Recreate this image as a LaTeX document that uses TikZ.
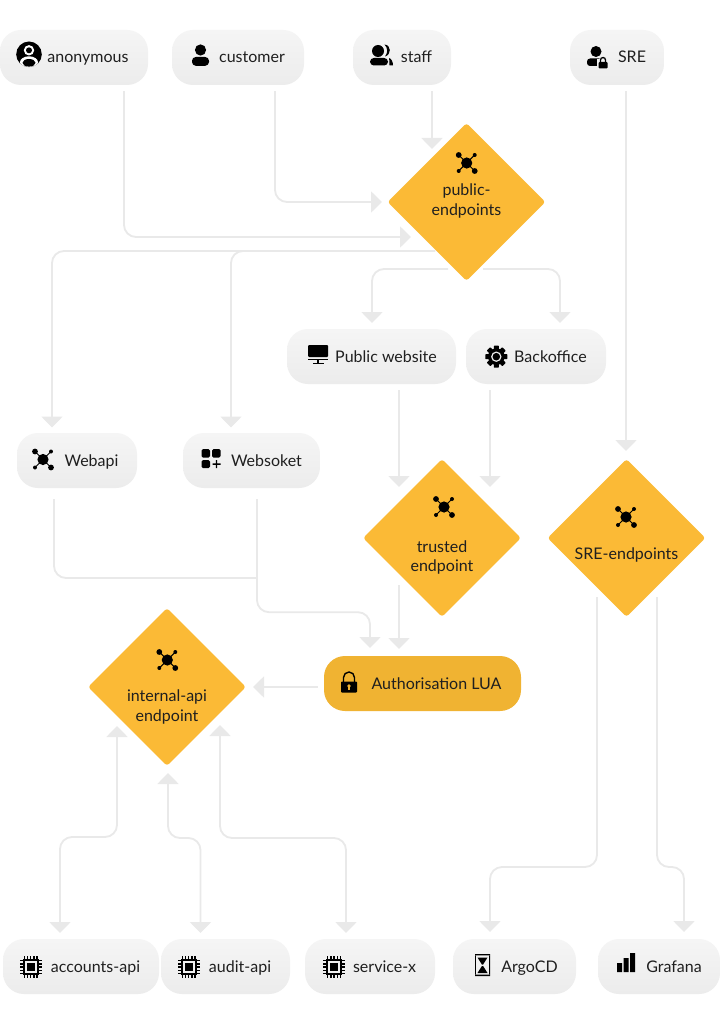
\documentclass[tikz,border=0pt]{standalone}
\usepackage{fontspec}
\setmainfont{Lato}
\usetikzlibrary{arrows.meta,shapes.geometric,backgrounds}
\definecolor{ink}{HTML}{1F1F1F}
\definecolor{wire}{HTML}{E9E9E9}
\definecolor{amber}{HTML}{FBBA36}
\definecolor{amberdark}{HTML}{F0B332}
\definecolor{tiletop}{HTML}{F5F5F5}
\definecolor{tilemid}{HTML}{F1F1F1}
\definecolor{tilebot}{HTML}{ECECEC}
\newcommand{\lbl}[2]{\hspace*{#1pt}#2}
\tikzset{
  x=1pt,y=-1pt,
  every node/.style={font=\fontsize{16}{19.5}\selectfont,text=ink,inner sep=0pt},
  tile/.style={rectangle,rounded corners=21pt,minimum height=55pt,top color=tiletop,bottom color=tilebot,text height=14pt,text depth=3pt},
  gatetile/.style={rectangle,rounded corners=21pt,minimum height=55pt,fill=amberdark,text height=14pt,text depth=3pt},
  gate/.style={diamond,aspect=1,minimum width=158pt,minimum height=158pt,fill=amber,rounded corners=3pt},
  gatetext/.style={align=center},
  wired/.style={draw=wire,line width=1.8pt,rounded corners=12pt,-{Triangle[length=11pt,width=21pt]}},
  wirednotip/.style={draw=wire,line width=1.8pt,rounded corners=12pt},
  wiredboth/.style={draw=wire,line width=1.8pt,rounded corners=12pt,{Triangle[length=11pt,width=21pt]}-{Triangle[length=11pt,width=21pt]}},
  ichub/.pic={
    \draw[black,line width=1pt] (-8,-8)--(8,8) (8,-8)--(-8,8);
    \fill[black] (0,0) circle (5.6) (-8,-8) circle (2.9) (8,8) circle (2.9) (8,-8) circle (2) (-8,8) circle (2);
  },
  icanon/.pic={
    \fill[black] (0,0) circle (12.8);
    \begin{scope}
      \clip (0,0) circle (12.8);
      \fill[white] (0,8) ellipse (9 and 6);
      \fill[black] (0,8.5) ellipse (6.5 and 3.8);
    \end{scope}
    \fill[white] (0,-4) circle (5.2);
    \fill[black] (0,-4) circle (3);
  },
  icuser/.pic={
    \fill[black] (0,-7) circle (5.6);
    \fill[black,rounded corners=3.8pt] (-8.5,8.8) rectangle (8.5,0);
  },
  icstaff/.pic={
    \fill[black] (-2,-6) circle (6);
    \fill[black,rounded corners=3.8pt] (-10,8.5) rectangle (8,1);
    \fill[black] (4.5,-12.5) .. controls (11.5,-12) and (11.5,-2) .. (5,-0.5) .. controls (8,-4) and (8,-9) .. (4.5,-12.5) -- cycle;
    \fill[black] (9,1) .. controls (11.5,1.5) and (13,5) .. (13,8.5) -- (9.5,8.5) .. controls (9.5,5) and (9.5,3) .. (9,1) -- cycle;
  },
  icsre/.pic={
    \fill[black] (0,-7) circle (5.5);
    \fill[black,rounded corners=3pt] (-9,7.5) rectangle (6,0);
    \fill[tilemid] (1,0.5) rectangle (14,11);
    \fill[black,rounded corners=1pt] (2.5,3.5) rectangle (11.5,10);
    \draw[black,line width=1.3pt] (4.5,4) -- (4.5,1.5) arc (180:360:2.5) -- (9.5,4);
  },
  icscreen/.pic={
    \fill[black,rounded corners=1pt] (-10,-12) rectangle (10,0);
    \fill[black] (-10,1.5) rectangle (10,3);
    \fill[black] (-1,3) rectangle (1,6.5);
    \fill[black] (-5.5,6) rectangle (5.5,7.3);
  },
  icgear/.pic={
    \foreach \a in {0,45,...,315} {
      \fill[black,rotate=\a,rounded corners=0.6pt] (-2.5,-11) rectangle (2.5,0);
    }
    \fill[black] (0,0) circle (8.3);
    \fill[tilemid] (0,0) circle (5.2);
    \fill[black] (0,0) circle (3.8);
  },
  icgrid/.pic={
    \fill[black,rounded corners=1.5pt] (-9,-10) rectangle (-0.5,-1.5);
    \fill[black,rounded corners=1.5pt] (1.5,-10) rectangle (10,-1.5);
    \fill[black,rounded corners=1.5pt] (-9,1) rectangle (-0.5,9);
    \fill[black] (2,4.4) rectangle (10,5.8) (5.3,1) rectangle (6.7,9);
  },
  iclock/.pic={
    \draw[black,line width=1.4pt] (-5.5,-1) -- (-5.5,-5.5) arc (180:360:5.5) -- (5.5,-1);
    \fill[black,rounded corners=0.8pt] (-8,-1.5) rectangle (8,9.5);
    \fill[amberdark] (0,3) circle (1.8);
    \fill[amberdark] (-0.7,3) rectangle (0.7,6.5);
  },
  icchip/.pic={
    \fill[black] (-8,-8) rectangle (8,8);
    \fill[tilemid] (-6,-6) rectangle (6,6);
    \fill[black] (-4,-4) rectangle (4,4);
    \foreach \p in {-6.4,-3.2,0,3.2,6.4} {
      \fill[black] (\p-0.7,-11) rectangle (\p+0.7,-8);
      \fill[black] (\p-0.7,8) rectangle (\p+0.7,11);
      \fill[black] (-11,\p-0.7) rectangle (-8,\p+0.7);
      \fill[black] (8,\p-0.7) rectangle (11,\p+0.7);
    }
  },
  ichour/.pic={
    \fill[black] (-7.5,-11) rectangle (7.5,-9.6) (-7.5,9.6) rectangle (7.5,11);
    \fill[black] (-7.5,-9.6) rectangle (-6.6,9.6) (6.6,-9.6) rectangle (7.5,9.6);
    \fill[black] (-5,-7.5) -- (5,-7.5) -- (0.6,-0.5) -- (-0.6,-0.5) -- cycle;
    \fill[black] (-5,8) -- (5,8) -- (0.6,1) -- (-0.6,1) -- cycle;
  },
  icbars/.pic={
    \fill[black] (-9,1) rectangle (-4,10) (-2.5,-4) rectangle (2.5,10) (4,-9) rectangle (9,10);
  }
}
\begin{document}
\begin{tikzpicture}
\useasboundingbox (0,0) rectangle (720,1024);
% top row
\node[tile,minimum width=148pt] (anon) at (74,57.5) {\lbl{28}{anonymous}};
\node[tile,minimum width=132pt] (cust) at (238,57.5) {\lbl{28}{customer}};
\node[tile,minimum width=98pt] (staff) at (402,57.5) {\lbl{29}{staff}};
\node[tile,minimum width=94pt] (sre) at (617,57.5) {\lbl{30}{SRE}};
% second row
\node[tile,minimum width=169pt] (pubweb) at (371.5,356.5) {\lbl{29}{Public website}};
\node[tile,minimum width=140pt] (back) at (536,356.5) {\lbl{29}{Backoffice}};
\node[tile,minimum width=120pt] (webapi) at (77,460.5) {\lbl{29}{Webapi}};
\node[tile,minimum width=137pt] (websok) at (251.5,460.5) {\lbl{30}{Websoket}};
% gates
\node[gate] (pub) at (466.5,202) {};
\node[gate] (trust) at (442,538) {};
\node[gate] (srep) at (626.5,538) {};
\node[gate] (intern) at (167,687) {};
\node[gatetext] (pubt) at (466.5,201) {public-\\endpoints};
\node[gatetext] (trustt) at (442,557.5) {trusted\\endpoint};
\node[gatetext] (srept) at (626.5,555) {SRE-endpoints};
\node[gatetext] (internt) at (167,707) {internal-api\\endpoint};
\node[gatetile,minimum width=197pt] (auth) at (422.5,683.5) {\lbl{28}{Authorisation LUA}};
% bottom row
\node[tile,minimum width=156pt] (acc) at (81,966.5) {\lbl{29}{accounts-api}};
\node[tile,minimum width=129pt] (aud) at (225.5,966.5) {\lbl{29}{audit-api}};
\node[tile,minimum width=130pt] (svc) at (370,966.5) {\lbl{29}{service-x}};
\node[tile,minimum width=123pt] (argo) at (514.5,966.5) {\lbl{30}{ArgoCD}};
\node[tile,minimum width=122pt] (graf) at (659,966.5) {\lbl{30}{Grafana}};
\coordinate (merge) at (257,578);
% icons
\pic at (29,54.3) {icanon};
\pic at (200.5,57) {icuser};
\pic at (380,57) {icstaff};
\pic at (596,58.5) {icsre};
\pic at (318,357) {icscreen};
\pic at (496.3,356.7) {icgear};
\pic at (43,459.5) {ichub};
\pic at (210.5,459) {icgrid};
\pic at (349,683) {iclock};
\pic at (466.7,163) {ichub};
\pic at (444,507) {ichub};
\pic at (626,517) {ichub};
\pic at (167.3,660) {ichub};
\pic at (30.6,967) {icchip};
\pic at (188.7,967) {icchip};
\pic at (334,967) {icchip};
\pic at (482.5,965) {ichour};
\pic at (626,962) {icbars};
% connectors
\begin{scope}[on background layer]
\fill[white] (0,0) rectangle (720,1024);
\draw[wired] ([shift={(50,6)}]anon.south) |- ([shift={(-55.5,35)}]pub.center);
\draw[wired] ([shift={(37,6)}]cust.south) |- ([shift={(-84.5,0)}]pub.center);
\draw[wired] ([shift={(30,6)}]staff.south) -- ([shift={(-34.5,-53)}]pub.center);
\draw[wired] ([shift={(9,6)}]sre.south) -- ([shift={(-0.5,-87)}]srep.center);
\draw[wired] ([shift={(-31.5,49)}]pub.center) -| ([shift={(-25,-33)}]webapi.center);
\draw[wired] ([shift={(-31.5,49)}]pub.center) -| ([shift={(-20.5,-33)}]websok.center);
\draw[wired] ([shift={(-18.5,67)}]pub.center) -| ([shift={(0.5,-33.5)}]pubweb.center);
\draw[wired] ([shift={(16.5,67)}]pub.center) -| ([shift={(24,-33.5)}]back.center);
\draw[wired] ([shift={(27.5,6)}]pubweb.south) -- ([shift={(-43,-51)}]trust.center);
\draw[wired] ([shift={(-46,6)}]back.south) -- ([shift={(48,-51)}]trust.center);
\draw[wirednotip] ([shift={(-23,11)}]webapi.south) |- (merge);
\draw[wired] ([shift={(5.5,11)}]websok.south) -- ++(0,113) -| ([shift={(-52.5,-35.5)}]auth.center);
\draw[wired] ([shift={(-43,47)}]trust.center) -- ([shift={(-23.5,-34.5)}]auth.center);
\draw[wired] ([shift={(-6,3.5)}]auth.west) -- ([shift={(86,0)}]intern.center);
\draw[wired] ([shift={(-29.5,59)}]srep.center) -- ++(0,270) -| ([shift={(-24.5,-34.5)}]argo.center);
\draw[wired] ([shift={(30.5,59)}]srep.center) -- ++(0,270) -| ([shift={(25,-34.5)}]graf.center);
\draw[wiredboth] ([shift={(-50,39)}]intern.center) -- ++(0,111) -| ([shift={(-21,-33.5)}]acc.center);
\draw[wiredboth] ([shift={(1,86)}]intern.center) -- ++(0,65) -| ([shift={(-25,-33.5)}]aud.center);
\draw[wiredboth] ([shift={(53,38)}]intern.center) -- ++(0,113) -| ([shift={(-24,-33.5)}]svc.center);
\end{scope}
\end{tikzpicture}
\end{document}
